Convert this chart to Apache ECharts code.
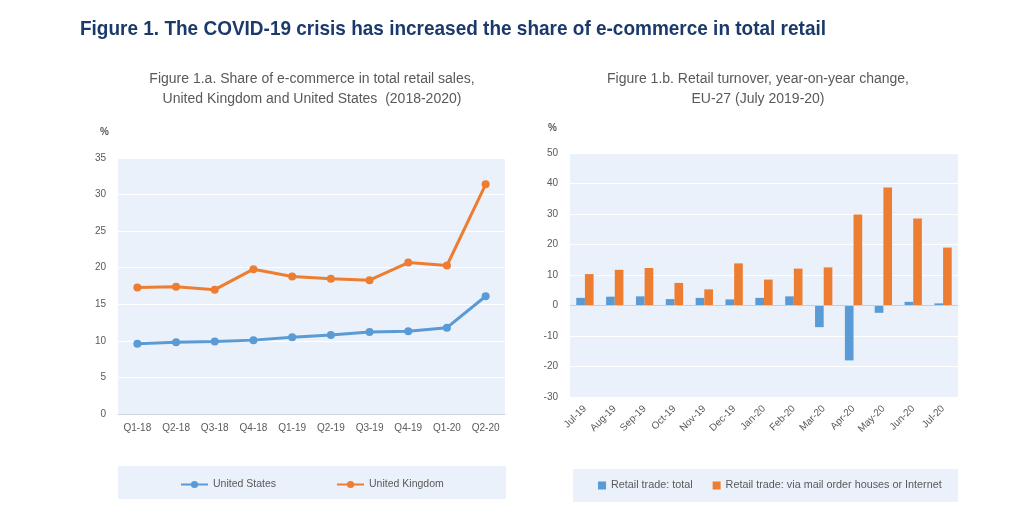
<!DOCTYPE html>
<html><head><meta charset="utf-8">
<script src="https://cdn.jsdelivr.net/npm/echarts@6/dist/echarts.min.js"></script>
<style>html,body{margin:0;padding:0;background:#fff}#c{width:1024px;height:525px}</style>
</head><body><div id="c"></div>
<script>
const quarters = ['Q1-18','Q2-18','Q3-18','Q4-18','Q1-19','Q2-19','Q3-19','Q4-19','Q1-20','Q2-20'];
const usShare = [9.6, 9.8, 9.9, 10.1, 10.5, 10.8, 11.2, 11.3, 11.8, 16.1];
const ukShare = [17.3, 17.4, 17.0, 19.8, 18.8, 18.5, 18.3, 20.7, 20.3, 31.4];
const months = ['Jul-19','Aug-19','Sep-19','Oct-19','Nov-19','Dec-19','Jan-20','Feb-20','Mar-20','Apr-20','May-20','Jun-20','Jul-20'];
const retailTotal = [2.5, 2.9, 3.0, 2.1, 2.5, 2.0, 2.5, 3.0, -7.1, -18.0, -2.4, 1.2, 0.7];
const retailOnline = [10.3, 11.7, 12.3, 7.4, 5.3, 13.8, 8.5, 12.1, 12.5, 29.8, 38.7, 28.5, 19.0];

const mainTitle = 'Figure 1. The COVID-19 crisis has increased the share of e-commerce in total retail';
const grey = '#595959';
const bg = '#EAF1FA';
const blue = '#5B9BD5';
const orange = '#ED7D31';

const titleFont = 'bold 21px "Liberation Sans"';
const cv = document.createElement('canvas').getContext('2d');
cv.font = titleFont;
const titleScale = 746 / cv.measureText(mainTitle).width;

const chart = echarts.init(document.getElementById('c'));
chart.setOption({
  animation: false,
  textStyle: {fontFamily: 'Liberation Sans'},
  title: [
    {text: 'Figure 1.a. Share of e-commerce in total retail sales,\nUnited Kingdom and United States  (2018-2020)',
     left: 307, top: 64, textAlign: 'center', textStyle: {fontSize: 14, fontWeight: 'normal', color: grey, lineHeight: 20}},
    {text: 'Figure 1.b. Retail turnover, year-on-year change,\nEU-27 (July 2019-20)',
     left: 753, top: 64, textAlign: 'center', textStyle: {fontSize: 14, fontWeight: 'normal', color: grey, lineHeight: 20}}
  ],
  graphic: [
    {type: 'text', x: 80, y: 19, scaleX: titleScale, style: {text: mainTitle, fill: '#1B3A6B', font: titleFont}},
    {type: 'rect', left: 118, top: 466, shape: {width: 388, height: 33}, style: {fill: bg}, z: -1},
    {type: 'rect', left: 573, top: 469, shape: {width: 385, height: 33}, style: {fill: bg}, z: -1},
    {type: 'text', left: 100, top: 127, style: {text: '%', fill: grey, font: 'bold 10px Liberation Sans'}},
    {type: 'text', left: 548, top: 123, style: {text: '%', fill: grey, font: 'bold 10px Liberation Sans'}}
  ],
  legend: [
    {data: ['United States', 'United Kingdom'], left: 180, top: 479, padding: 0, itemWidth: 27, itemHeight: 9, itemGap: 60,
     textStyle: {fontSize: 10.5, color: grey}},
    {data: ['Retail trade: total', 'Retail trade: via mail order houses or Internet'], left: 598, top: 480, padding: 0,
     itemWidth: 8, itemHeight: 8, itemGap: 20, icon: 'rect', textStyle: {fontSize: 10.8, color: grey}}
  ],
  grid: [
    {left: 118, right: 519, top: 158, bottom: 111, show: true, backgroundColor: bg, borderWidth: 0},
    {left: 570, right: 66, top: 153, bottom: 128, show: true, backgroundColor: bg, borderWidth: 0}
  ],
  xAxis: [
    {gridIndex: 0, type: 'category', data: quarters, boundaryGap: true,
     axisLine: {lineStyle: {color: '#D0D7E0'}}, axisTick: {show: false},
     axisLabel: {fontSize: 10, color: grey, margin: 9}},
    {gridIndex: 1, type: 'category', data: months,
     axisLine: {show: false}, axisTick: {show: false},
     axisLabel: {fontSize: 10, color: grey, rotate: 45, margin: 10, interval: 0}}
  ],
  yAxis: [
    {gridIndex: 0, type: 'value', min: 0, max: 35, interval: 5,
     axisLine: {show: false}, axisTick: {show: false},
     axisLabel: {fontSize: 10, color: grey, margin: 12},
     splitLine: {lineStyle: {color: '#ffffff', width: 1}}},
    {gridIndex: 1, type: 'value', min: -30, max: 50, interval: 10,
     axisLine: {show: false}, axisTick: {show: false},
     axisLabel: {fontSize: 10, color: grey, margin: 12},
     splitLine: {lineStyle: {color: '#ffffff', width: 1}}}
  ],
  series: [
    {name: 'United States', type: 'line', xAxisIndex: 0, yAxisIndex: 0, data: usShare,
     symbol: 'circle', symbolSize: 8, lineStyle: {width: 3, color: blue}, itemStyle: {color: blue}},
    {name: 'United Kingdom', type: 'line', xAxisIndex: 0, yAxisIndex: 0, data: ukShare,
     symbol: 'circle', symbolSize: 8, lineStyle: {width: 3, color: orange}, itemStyle: {color: orange}},
    {name: 'Retail trade: total', type: 'bar', xAxisIndex: 1, yAxisIndex: 1, data: retailTotal,
     barWidth: '29%', barGap: '0%', itemStyle: {color: blue},
     markLine: {silent: true, symbol: 'none', label: {show: false}, lineStyle: {color: '#C8CED6', type: 'solid', width: 1},
       data: [{yAxis: 0}]}},
    {name: 'Retail trade: via mail order houses or Internet', type: 'bar', xAxisIndex: 1, yAxisIndex: 1, data: retailOnline,
     barWidth: '29%', barGap: '0%', itemStyle: {color: orange}}
  ]
});
</script></body></html>
